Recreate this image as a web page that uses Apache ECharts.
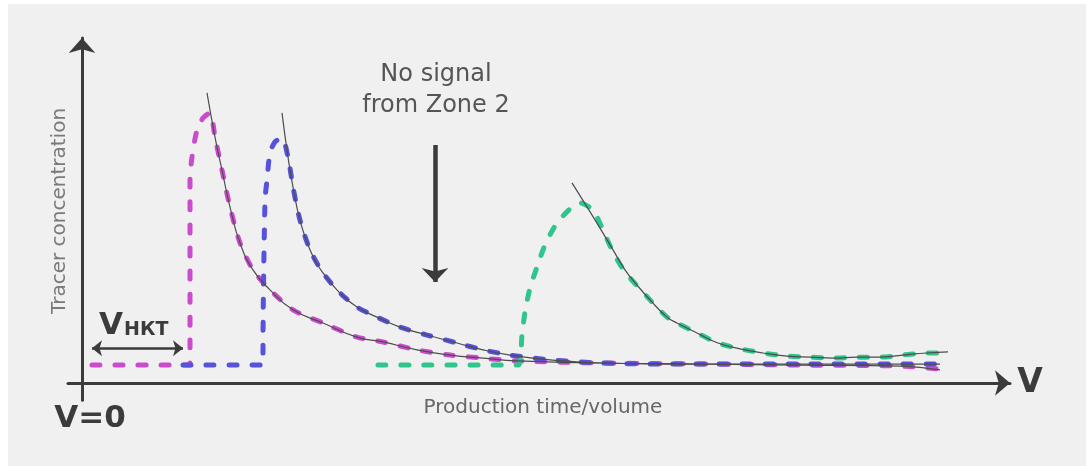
<!DOCTYPE html>
<html>
<head>
<meta charset="utf-8">
<script src="https://cdn.jsdelivr.net/npm/echarts@6/dist/echarts.min.js"></script>
<style>
html,body{margin:0;padding:0;background:#ffffff;}
#chart{width:1090px;height:466px;}
</style>
</head>
<body>
<div id="chart"></div>
<script>
// Zone 1 (magenta) tracer response
var zone1Curve = [[1.0,5.2],[10.8,5.2],[10.8,10.4],[10.8,58.8],[11.0,65.5],[11.5,73.3],[12.1,76.8],[12.8,78.3],
  [13.3,71.3],[14.0,61.7],[14.8,51.0],[15.8,40.6],[17.1,32.8],[18.8,27.0],[21.1,21.2],[24.1,17.4],[27.5,13.3],
  [30.1,11.9],[33.5,9.6],[36.8,8.1],[40.1,7.2],[43.5,6.4],[51.8,5.8],[61.8,5.5],[71.8,5.2],[81.8,4.9],[85.5,4.1]];
var zone1Fit = [[12.5,84.1],[13.3,71.3],[14.0,61.7],[14.8,51.0],[15.8,40.6],[17.1,32.8],[18.8,27.0],[21.1,21.2],
  [24.1,17.4],[27.5,13.3],[30.1,11.9],[33.5,9.6],[36.8,8.1],[40.1,7.2],[43.5,6.4],[51.8,5.8],[61.8,5.5],[71.8,5.2],[81.8,4.9],[85.8,3.8]];
// Zone 3 (blue) tracer response
var zone3Curve = [[10.1,5.2],[18.1,5.2],[18.1,10.4],[18.3,53.0],[18.5,58.8],[18.8,66.7],[19.3,69.9],[20.0,71.0],
  [20.6,65.5],[21.1,56.8],[21.8,47.2],[22.8,38.6],[24.1,31.9],[25.8,26.1],[27.5,22.0],[29.5,19.1],[31.8,16.2],
  [34.5,13.9],[37.5,11.6],[40.1,9.6],[42.8,8.1],[46.8,6.7],[51.8,5.8],[58.5,5.5],[71.8,5.5],[85.5,5.5]];
var zone3Fit = [[20.0,78.3],[20.6,65.5],[21.1,56.8],[21.8,47.2],[22.8,38.6],[24.1,31.9],[25.8,26.1],[27.5,22.0],
  [29.5,19.1],[31.8,16.2],[34.5,13.9],[37.5,11.6],[40.1,9.6],[42.8,8.1],[46.8,6.7],[51.8,5.8],[58.5,5.5],[71.8,5.5],[85.8,5.5]];
// Zone 4 (green) tracer response
var zone4Curve = [[29.6,5.2],[43.6,5.2],[44.0,13.9],[44.3,20.6],[44.8,27.5],[45.5,33.6],[46.3,40.0],[47.5,46.4],
  [49.0,51.0],[49.8,52.2],[51.1,50.1],[52.1,44.3],[53.1,38.0],[54.3,32.2],[56.8,24.1],[58.5,19.1],[59.5,17.4],
  [61.5,14.5],[63.6,11.6],[65.8,9.9],[68.1,8.7],[70.5,7.8],[72.8,7.5],[75.1,7.2],[77.5,7.5],[79.8,7.5],[82.1,8.1],[84.5,8.7],[85.5,8.7]];
var zone4Fit = [[49.0,58.0],[50.7,50.1],[51.8,44.9],[53.0,39.1],[54.3,32.8],[55.5,28.4],[56.8,24.1],[58.5,19.1],[59.5,17.4],
  [61.5,14.5],[63.6,11.6],[65.8,9.9],[68.1,8.7],[70.5,7.8],[72.8,7.5],[75.1,7.2],[77.5,7.5],[79.8,7.5],[82.1,8.1],[84.5,8.7],[86.6,9.0]];
// Annotation anchors (data space)
var noSignalArrow = [[35.3,69.0],[35.3,29.3]];
var vhktArrow = [[1.0,10.1],[10.1,10.1]];

var chart = echarts.init(document.getElementById('chart'), null, {renderer:'canvas'});
var FONT = '"DejaVu Sans", "Open Sans", sans-serif';
var AX = '#3b3b3b';

function dashed(name, data, color){
  return {name:name, type:'line', data:data, smooth:0.25, symbol:'none', z:3,
    lineStyle:{color:color, width:5, type:[8,15], cap:'round', join:'round'}};
}
function fit(data){
  return {type:'line', data:data, smooth:0.5, symbol:'none', z:4,
    lineStyle:{color:'#4d4d4d', width:1.2}};
}

chart.setOption({
  animation:false,
  backgroundColor:'transparent',
  grid:{left:68, right:80, top:38, bottom:65.75, containLabel:false},
  xAxis:{type:'value', min:-1.4, max:92.8,
    axisLine:{show:true, onZero:true, symbol:['none','arrow'], symbolSize:[19,15], symbolOffset:[0,0],
      lineStyle:{color:AX, width:3}},
    axisTick:{show:false}, axisLabel:{show:false}, splitLine:{show:false}},
  yAxis:{type:'value', min:-5, max:100,
    axisLine:{show:true, onZero:true, symbol:['none','arrow'], symbolSize:[20,15],
      lineStyle:{color:AX, width:3}},
    axisTick:{show:false}, axisLabel:{show:false}, splitLine:{show:false}},
  graphic:[
    {type:'rect', z:-100, silent:true, shape:{x:8,y:4,width:1078,height:462}, style:{fill:'#f0f0f0'}},
    {type:'text', x:60, y:211, rotation:Math.PI/2, style:{text:'Tracer concentration', font:'20px '+FONT, fill:'#7a7a7a', align:'center', verticalAlign:'middle'}},
    {type:'text', x:436, y:75, style:{text:'No signal', font:'24px '+FONT, fill:'#555555', align:'center', verticalAlign:'middle'}},
    {type:'text', x:436, y:106, style:{text:'from Zone 2', font:'24px '+FONT, fill:'#555555', align:'center', verticalAlign:'middle'}},
    {type:'text', x:543, y:408, style:{text:'Production time/volume', font:'20px '+FONT, fill:'#666666', align:'center', verticalAlign:'middle'}},
    {type:'text', x:90, y:419, style:{text:'V=0', font:'bold 31px '+FONT, fill:'#3b3b3b', align:'center', verticalAlign:'middle'}},
    {type:'text', x:1030, y:383, style:{text:'V', font:'bold 33px '+FONT, fill:'#3b3b3b', align:'center', verticalAlign:'middle'}},
    {type:'text', x:99, y:341, style:{text:'V', font:'bold 31px '+FONT, fill:'#3b3b3b', align:'left', verticalAlign:'bottom'}},
    {type:'text', x:124, y:340, style:{text:'НКТ', font:'bold 19px '+FONT, fill:'#3b3b3b', align:'left', verticalAlign:'bottom'}}
  ],
  series:[
    dashed('Zone 1', zone1Curve, '#ca4ccd'),
    dashed('Zone 3', zone3Curve, '#5652db'),
    dashed('Zone 4', zone4Curve, '#30c58c'),
    fit(zone1Fit), fit(zone3Fit), fit(zone4Fit),
    {type:'line', data:[], symbol:'none', silent:true,
      markLine:{silent:true, symbol:['none','arrow'], symbolSize:[20,14], label:{show:false},
        lineStyle:{color:AX, width:4.5, type:'solid'},
        data:[[{coord:noSignalArrow[0]},{coord:noSignalArrow[1]}]]}},
    {type:'line', data:[], symbol:'none', silent:true,
      markLine:{silent:true, symbol:['arrow','arrow'], symbolSize:[12,10], label:{show:false},
        lineStyle:{color:AX, width:2.5, type:'solid'},
        data:[[{coord:vhktArrow[0]},{coord:vhktArrow[1]}]]}}
  ]
});
</script>
</body>
</html>
